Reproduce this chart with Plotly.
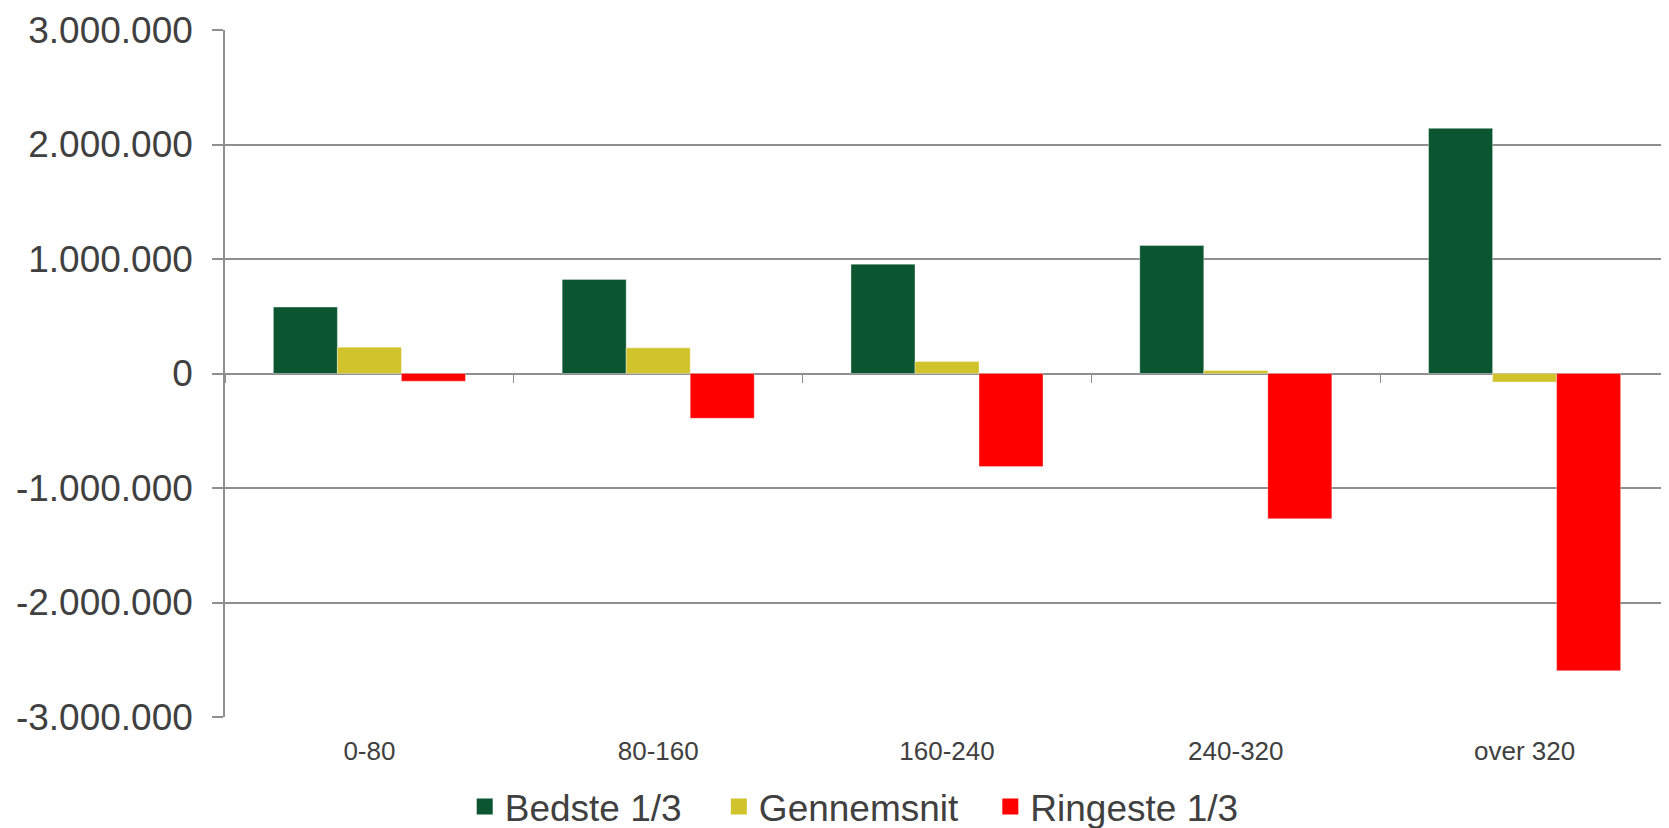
import plotly.graph_objects as go

categories = ["0-80", "80-160", "160-240", "240-320", "over 320"]
bedste = [580000, 822000, 955000, 1117000, 2141000]
gennemsnit = [230000, 224000, 104000, 27000, -74000]
ringeste = [-67000, -391000, -813000, -1268000, -2596000]

series = [
    ("Bedste 1/3", bedste, "#0B5630"),
    ("Gennemsnit", gennemsnit, "#D0C32B"),
    ("Ringeste 1/3", ringeste, "#FF0000"),
]
legend_ids = ["legend", "legend2", "legend3"]
legend_x = [0.166, 0.342, 0.530]

tickvals = [-3000000, -2000000, -1000000, 0, 1000000, 2000000, 3000000]
ticktext = ["-3.000.000", "-2.000.000", "-1.000.000", "0", "1.000.000", "2.000.000", "3.000.000"]

GRID = "#8f8f8f"
FONT = "Liberation Sans, Arial, sans-serif"

fig = go.Figure()
for name, vals, color in series:
    fig.add_trace(go.Bar(
        x=categories, y=vals, name=name, showlegend=False,
        marker=dict(color=color, line=dict(width=0.6, color="rgba(255,255,255,0.6)")),
    ))
# legend entries with larger square symbols
for (name, vals, color), lid in zip(series, legend_ids):
    fig.add_trace(go.Scatter(
        x=[None], y=[None], mode="markers", name=name, legend=lid,
        marker=dict(symbol="square", size=18, color=color),
    ))
# invisible trace carrying the zero-crossing category axis (boundary ticks)
fig.add_trace(go.Scatter(
    x=categories, y=[0] * len(categories), xaxis="x2", mode="markers",
    marker=dict(opacity=0), showlegend=False, hoverinfo="skip",
))

legend_style = dict(
    orientation="h", xanchor="left", y=-0.131, yanchor="middle",
    font=dict(size=37, color="#404040"), itemwidth=30,
    bgcolor="rgba(0,0,0,0)",
)

fig.update_layout(
    width=1661, height=820,
    margin=dict(l=217, r=0, t=22, b=111, autoexpand=False),
    paper_bgcolor="white", plot_bgcolor="white",
    font=dict(family=FONT, color="#404040"),
    barmode="group", bargap=0.335, bargroupgap=0,
    showlegend=True,
    legend=dict(x=legend_x[0], **legend_style),
    legend2=dict(x=legend_x[1], **legend_style),
    legend3=dict(x=legend_x[2], **legend_style),
    xaxis=dict(
        type="category", categoryorder="array", categoryarray=categories,
        range=[-0.5, 4.5], showgrid=False, ticks="", showline=False,
        zeroline=False, tickfont=dict(size=26, color="#404040"),
        ticklabelstandoff=16, automargin=False,
    ),
    xaxis2=dict(
        type="category", categoryorder="array", categoryarray=categories,
        range=[-0.5, 4.5], overlaying="x", anchor="free", position=0.5,
        side="bottom", showticklabels=False, ticks="outside",
        tickson="boundaries", ticklen=8, tickcolor=GRID, tickwidth=1,
        showgrid=False, showline=False, zeroline=False,
    ),
    yaxis=dict(
        range=[-3000000, 3000000], tickvals=tickvals, ticktext=ticktext,
        showgrid=True, gridcolor=GRID, gridwidth=1.5,
        zeroline=True, zerolinecolor=GRID, zerolinewidth=1.5,
        showline=True, linecolor=GRID, linewidth=1.5,
        ticks="outside", ticklen=11, tickcolor=GRID, tickwidth=1.5,
        tickfont=dict(size=37, color="#404040"),
        ticklabelstandoff=12, automargin=False,
    ),
)

fig.write_html("out.html")
